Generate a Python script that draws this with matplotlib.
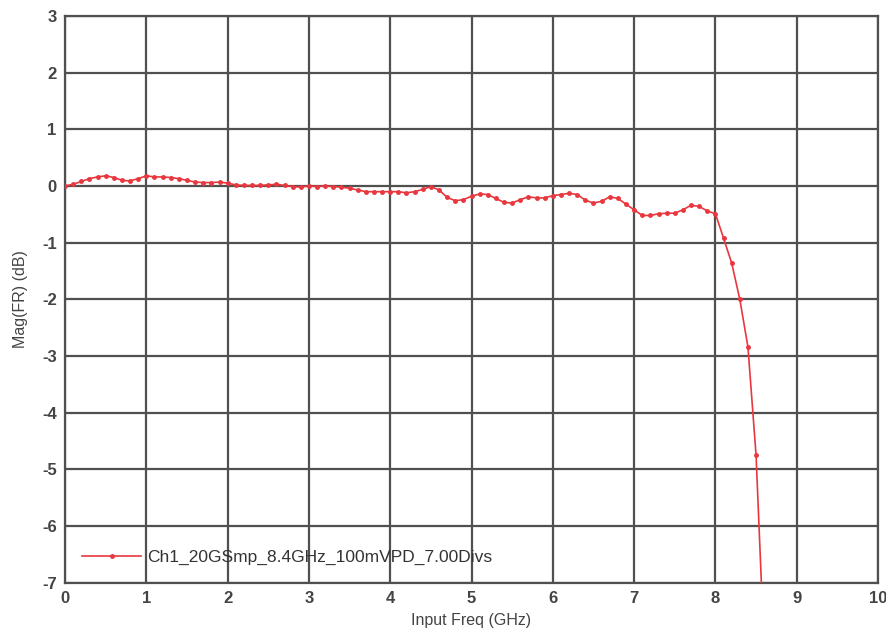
import numpy as np
import matplotlib.pyplot as plt

plt.rcParams['font.family'] = ['Liberation Sans', 'DejaVu Sans']
plt.rcParams['axes.unicode_minus'] = False

# frequency response of Ch1, one sample every 0.1 GHz
freq_ghz = [round(0.1 * i, 1) for i in range(87)]
mag_db = [
    0.00, 0.03, 0.08, 0.13, 0.16, 0.18, 0.15, 0.10, 0.09, 0.13,
    0.18, 0.16, 0.16, 0.15, 0.13, 0.10, 0.07, 0.06, 0.06, 0.07,
    0.05, 0.02, 0.01, 0.01, 0.01, 0.02, 0.03, 0.01, -0.01, -0.02,
    0.00, -0.01, 0.00, -0.01, -0.02, -0.04, -0.07, -0.10, -0.10, -0.10,
    -0.10, -0.10, -0.12, -0.10, -0.06, -0.01, -0.07, -0.20, -0.26, -0.24,
    -0.18, -0.14, -0.15, -0.22, -0.29, -0.30, -0.24, -0.19, -0.21, -0.21,
    -0.17, -0.15, -0.13, -0.15, -0.25, -0.30, -0.27, -0.19, -0.22, -0.32,
    -0.42, -0.52, -0.52, -0.49, -0.48, -0.48, -0.42, -0.34, -0.36, -0.44,
    -0.49, -0.92, -1.36, -2.00, -2.84, -4.75, -8.20,
]
series_label = "Ch1_20GSmp_8.4GHz_100mVPD_7.00Divs"

x_ticks = list(range(0, 11))
y_ticks = list(range(-7, 4))

fig = plt.figure(figsize=(8.86, 6.37), dpi=100)
ax = fig.add_axes([0.0734, 0.085, 0.9176, 0.89])

ax.plot(freq_ghz, mag_db, color="#e8373e", lw=1.2, marker=".", ms=5,
        label=series_label, zorder=3)

ax.set_xlim(0, 10)
ax.set_ylim(-7, 3)
ax.set_xticks(x_ticks)
ax.set_yticks(y_ticks)
ax.grid(True, color="#505050", lw=1.6)
ax.set_axisbelow(True)
for s in ax.spines.values():
    s.set_color("#505050")
    s.set_linewidth(1.6)
ax.tick_params(length=0, labelsize=12, labelcolor="#444444", pad=6)
for t in ax.get_xticklabels() + ax.get_yticklabels():
    t.set_fontweight("bold")

ax.set_xlabel("Input Freq (GHz)", fontsize=11.5, color="#444444", labelpad=5)
ax.set_ylabel("Mag(FR) (dB)", fontsize=11.5, color="#444444", labelpad=10)

leg = ax.legend(loc="lower left", frameon=False, fontsize=12.5,
                handlelength=3.4, handletextpad=0.3,
                borderaxespad=0.6)
for t in leg.get_texts():
    t.set_color("#333333")

fig.savefig("out.png", dpi=100, facecolor="white")
